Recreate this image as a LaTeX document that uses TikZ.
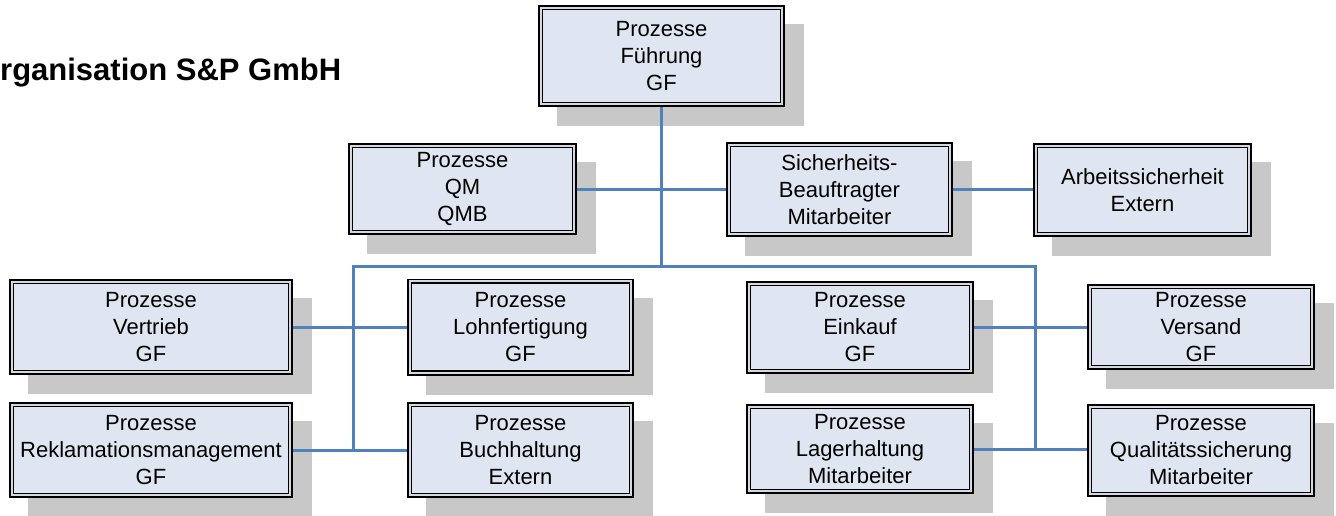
\documentclass[tikz,border=0pt]{standalone}
\usepackage{fontspec}
\setmainfont{Liberation Sans}
\pgfdeclarelayer{shade}
\pgfdeclarelayer{wires}
\pgfsetlayers{shade,wires,main}
\definecolor{boxfill}{RGB}{223,230,242}
\definecolor{rimgap}{RGB}{212,216,224}
\definecolor{shadefill}{RGB}{200,200,200}
\definecolor{wireblue}{RGB}{79,129,189}

\begin{document}
\begin{tikzpicture}[x=1pt,y=-1pt,
  orgbox/.style={draw=black, line width=1.8pt, double=rimgap, double distance=1.8pt,
    fill=boxfill, inner sep=0pt, outer sep=0pt, align=center,
    font=\fontsize{22}{27}\selectfont},
  link/.style={draw=wireblue, line width=3pt, line join=miter},
  ]
\useasboundingbox (0,0) rectangle (1336,516);

% title
\node[anchor=base west, inner sep=0pt, font=\bfseries\fontsize{31}{37}\selectfont]
  (title) at (0,81) {rganisation S\&P GmbH};

% top level
\node[orgbox, minimum width=241.6pt, minimum height=96.6pt] (fuehrung) at (661.5,56)
  {Prozesse\\Führung\\GF};

% staff level
\node[orgbox, minimum width=223.6pt, minimum height=86.6pt] (qm) at (462.5,189)
  {Prozesse\\QM\\QMB};
\node[orgbox, minimum width=221.6pt, minimum height=89.6pt] (sb) at (839.5,189.5)
  {Sicherheits-\\Beauftragter\\Mitarbeiter};
\node[orgbox, minimum width=213.6pt, minimum height=88.6pt] (as) at (1142.5,190)
  {Arbeitssicherheit\\Extern};

% process level
\node[orgbox, minimum width=278.6pt, minimum height=90.6pt] (vertrieb) at (151,327)
  {Prozesse\\Vertrieb\\GF};
\node[orgbox, minimum width=278.6pt, minimum height=90.6pt] (rekl) at (151,450)
  {Prozesse\\Reklamationsmanagement\\GF};
\node[orgbox, minimum width=221.6pt, minimum height=91.6pt] (lohn) at (520.5,327)
  {Prozesse\\Lohnfertigung\\GF};
\node[orgbox, minimum width=221.6pt, minimum height=90.6pt] (buch) at (520.5,450)
  {Prozesse\\Buchhaltung\\Extern};
\node[orgbox, minimum width=222.6pt, minimum height=87.6pt] (einkauf) at (860,327.5)
  {Prozesse\\Einkauf\\GF};
\node[orgbox, minimum width=222.6pt, minimum height=84.6pt] (lager) at (860,449)
  {Prozesse\\Lagerhaltung\\Mitarbeiter};
\node[orgbox, minimum width=222.6pt, minimum height=80.6pt] (versand) at (1201,327)
  {Prozesse\\Versand\\GF};
\node[orgbox, minimum width=222.6pt, minimum height=87.6pt] (qual) at (1201,450.5)
  {Prozesse\\Qualitätssicherung\\Mitarbeiter};

% drop shadows
\begin{pgfonlayer}{shade}
  \foreach \n in {fuehrung,qm,sb,as,vertrieb,rekl,lohn,buch,einkauf,lager,versand,qual}
    \fill[shadefill] ([xshift=16.3pt,yshift=-16.3pt]\n.north west)
      rectangle ([xshift=21.7pt,yshift=-21.7pt]\n.south east);
\end{pgfonlayer}

% connectors
\coordinate (busL) at (353,266);
\coordinate (busR) at (1035,266);
\begin{pgfonlayer}{wires}
  \draw[link] (fuehrung.south) -- (fuehrung.south |- busL);
  \draw[link] (busL |- rekl.east) -- (busL) -- (busR) -- (busR |- lager.east);
  \draw[link] (qm.east) -- (qm.east -| sb.west);
  \draw[link] (sb.east) -- (sb.east -| as.west);
  \draw[link] (vertrieb.east) -- (vertrieb.east -| lohn.west);
  \draw[link] (rekl.east) -- (rekl.east -| buch.west);
  \draw[link] (einkauf.east) -- (einkauf.east -| versand.west);
  \draw[link] (lager.east) -- (lager.east -| qual.west);
\end{pgfonlayer}
\end{tikzpicture}
\end{document}
